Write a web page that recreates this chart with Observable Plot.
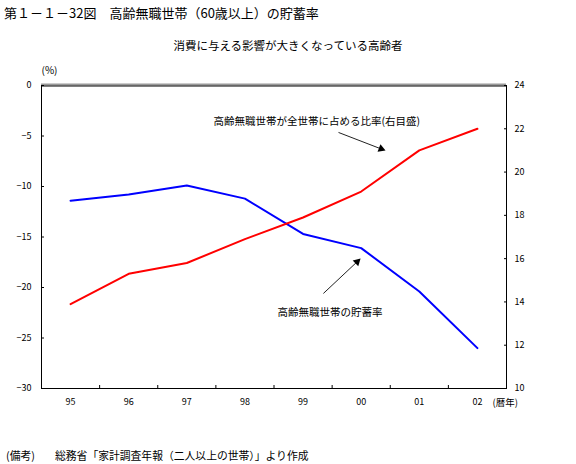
<!DOCTYPE html>
<html>
<head>
<meta charset="utf-8">
<script src="https://cdn.jsdelivr.net/npm/d3@7"></script>
<script src="https://cdn.jsdelivr.net/npm/@observablehq/plot@0.6"></script>
<style>
  html, body { margin: 0; padding: 0; background: #fff; }
  #wrap { position: relative; width: 576px; height: 464px; font-family: "Noto Sans CJK JP", sans-serif; color: #000; overflow: hidden; }
  .t { position: absolute; white-space: nowrap; line-height: 1; }
</style>
</head>
<body>
<div id="wrap">
  <div class="t" id="title" style="left:4px; top:6px; font-size:13px;"></div>
  <div class="t" id="subtitle" style="left:0; width:576px; text-align:center; top:40px; font-size:11.5px;"></div>
  <div id="chart" style="position:absolute; left:0; top:56px;"></div>
  <div class="t" id="note1" style="left:6px; top:450px; font-size:10.8px;"></div>
  <div class="t" id="note2" style="left:55px; top:450px; font-size:10.8px;"></div>
</div>
<script>
// ---- data ----
const years = ["95", "96", "97", "98", "99", "00", "01", "02"];
const savingsRate = [-11.4, -10.8, -9.9, -11.2, -14.7, -16.1, -20.4, -26.0];      // 高齢無職世帯の貯蓄率 (left, %)
const shareOfHouseholds = [13.9, 15.3, 15.8, 16.9, 17.9, 19.1, 21.0, 22.0];       // 全世帯に占める比率 (right, %)
const leftTicks = [0, -5, -10, -15, -20, -25, -30];
const rightTicks = [10, 12, 14, 16, 18, 20, 22, 24];
const leftDomain = [-30, 0];
const rightDomain = [10, 24];

// annotations (label texts and anchor points in chart units)
const noteTexts = ["高齢無職世帯が全世帯に占める比率(右目盛)", "高齢無職世帯の貯蓄率"];
const noteX = [2.96, 4.06];
const noteY = [-3.56, -22.48];
const arrowX1 = [5.11, 4.85];
const arrowY1 = [-4.65, -20.59];
const arrowX2 = [5.844, 5.431];
const arrowY2 = [-6.28, -17.45];
const arrowAngle = [111, 46.6];

const titleText = "第１－１－32図　高齢無職世帯（60歳以上）の貯蓄率";
const subtitleText = "消費に与える影響が大きくなっている高齢者";
const sourceLabel = "(備考)";
const sourceText = "総務省「家計調査年報（二人以上の世帯）」より作成";

document.getElementById("title").textContent = titleText;
document.getElementById("subtitle").textContent = subtitleText;
document.getElementById("note1").textContent = sourceLabel;
document.getElementById("note2").textContent = sourceText;

// right axis values mapped onto left scale
const toLeft = d3.scaleLinear(rightDomain, leftDomain);
const rightTickPos = rightTicks.map(toLeft);
const xCenters = years.map((_, i) => i + 0.5);
const xBounds = d3.range(1, years.length);

const notes = noteTexts.map((t, i) => ({t, x: noteX[i], y: noteY[i]}));
const arrows = arrowX1.map((_, i) => ({x1: arrowX1[i], y1: arrowY1[i], x2: arrowX2[i], y2: arrowY2[i], a: arrowAngle[i]}));

const chart = Plot.plot({
  width: 576,
  height: 370,
  marginLeft: 41,
  marginRight: 70,
  marginTop: 29,
  marginBottom: 38,
  x: {type: "linear", domain: [0, years.length]},
  y: {domain: leftDomain},
  style: {fontFamily: "'Noto Sans CJK JP', sans-serif", fontSize: "9px", background: "white", color: "black", overflow: "visible"},
  marks: [
    // frame
    Plot.ruleX([0, years.length], {stroke: "black", strokeWidth: 1}),
    Plot.ruleY([leftDomain[0]], {stroke: "black", strokeWidth: 1}),
    Plot.ruleY([leftDomain[1]], {stroke: "#999", strokeWidth: 2, dy: -1}),
    Plot.ruleY([leftDomain[1]], {stroke: "black", strokeWidth: 1, dy: 0.5}),
    // left axis
    Plot.axisY(leftTicks, {anchor: "left", tickSize: 3, dx: 3, tickFormat: () => "", label: null}),
    Plot.axisY(leftTicks, {anchor: "left", tickSize: 0, tickPadding: 10, fontSize: 9, label: null}),
    // right axis
    Plot.axisY(rightTickPos, {anchor: "right", tickSize: 3, dx: -3, tickFormat: () => "", label: null}),
    Plot.axisY(rightTickPos, {anchor: "right", tickSize: 0, tickPadding: 8, fontSize: 9, label: null,
      tickFormat: d => String(Math.round(toLeft.invert(d)))}),
    // x axis
    Plot.axisX(xBounds, {anchor: "bottom", tickSize: 3, dy: -3, tickFormat: () => "", label: null}),
    Plot.axisX(xCenters, {anchor: "bottom", tickSize: 0, tickPadding: 10, fontSize: 9, label: null,
      tickFormat: d => years[Math.floor(d)]}),
    Plot.text(["(%)"], {frameAnchor: "top-left", textAnchor: "start", dx: 0, dy: -19, fontSize: 10}),
    Plot.text(["(暦年)"], {frameAnchor: "bottom-right", textAnchor: "start", dx: -14, dy: 17, fontSize: 9.5}),
    // series
    Plot.line(savingsRate, {x: (d, i) => i + 0.5, y: d => d, stroke: "#0000ff", strokeWidth: 2}),
    Plot.line(shareOfHouseholds, {x: (d, i) => i + 0.5, y: d => toLeft(d), stroke: "#ff0000", strokeWidth: 2}),
    // annotations
    Plot.link(arrows, {x1: "x1", y1: "y1", x2: "x2", y2: "y2", stroke: "#222", strokeWidth: 1}),
    Plot.dot(arrows, {x: "x2", y: "y2", symbol: "triangle", r: 3, fill: "black", stroke: "none", rotate: "a"}),
    Plot.text(notes, {x: "x", y: "y", text: "t", textAnchor: "start", fontSize: 10.5})
  ]
});
document.getElementById("chart").appendChild(chart);
</script>
</body>
</html>
